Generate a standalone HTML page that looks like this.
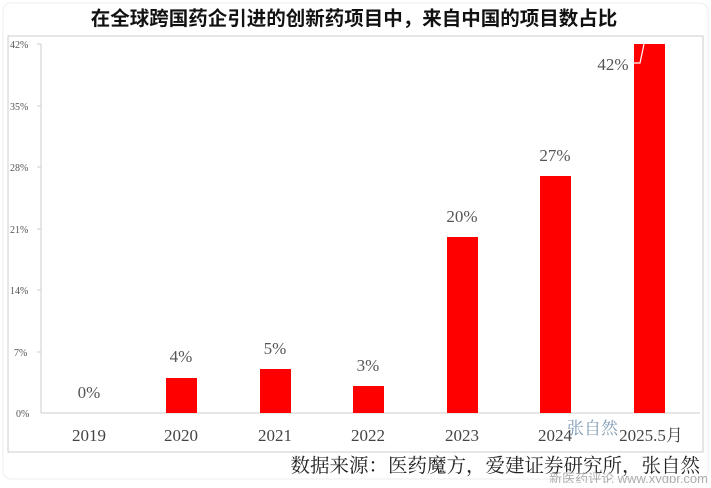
<!DOCTYPE html>
<html><head><meta charset="utf-8"><style>
body{margin:0;width:711px;height:483px;background:#fff;overflow:hidden;font-family:"Liberation Serif","Noto Serif CJK SC",serif}
</style></head><body>
<svg width="711" height="483" xmlns="http://www.w3.org/2000/svg">
<rect x="3" y="3" width="705" height="476" rx="8" fill="#fff" stroke="#eee"/>
<text x="354" y="25" text-anchor="middle" font-family="Liberation Sans,'Noto Sans CJK SC',sans-serif" font-weight="bold" font-size="19.5" fill="#111">在全球跨国药企引进的创新药项目中，来自中国的项目数占比</text>
<rect x="8" y="36" width="695" height="416" fill="#fff" stroke="#ccc"/>
<g font-family="Liberation Serif,serif" font-size="10" fill="#555" text-anchor="start">
<text x="10" y="48">42%</text><text x="10" y="110">35%</text><text x="10" y="171">28%</text><text x="10" y="233">21%</text><text x="10" y="294">14%</text><text x="14" y="356">7%</text><text x="16" y="417">0%</text>
</g>
<line x1="41" y1="44" x2="41" y2="413" stroke="#ccc"/>
<g stroke="#ccc"><line x1="37" y1="44" x2="41" y2="44"/><line x1="37" y1="106" x2="41" y2="106"/><line x1="37" y1="167" x2="41" y2="167"/><line x1="37" y1="229" x2="41" y2="229"/><line x1="37" y1="290" x2="41" y2="290"/><line x1="37" y1="352" x2="41" y2="352"/></g>
<line x1="41" y1="413" x2="700" y2="413" stroke="#ccc"/>
<g fill="#ff0000">
<rect x="166" y="378" width="31" height="35"/>
<rect x="260" y="369" width="31" height="44"/>
<rect x="353" y="386" width="31" height="27"/>
<rect x="447" y="237" width="31" height="176"/>
<rect x="540" y="176" width="31" height="237"/>
<rect x="634" y="44" width="31" height="369"/>
</g>
<polyline points="630,63 640,63 644,44" fill="none" stroke="#fff" stroke-width="1.2"/>
<g font-size="17" fill="#555" text-anchor="middle">
<text x="89" y="398">0%</text><text x="181" y="362">4%</text><text x="275" y="354">5%</text><text x="368" y="371">3%</text><text x="462" y="222">20%</text><text x="555" y="161">27%</text><text x="613" y="70">42%</text>
</g>
<g font-size="17" fill="#444" text-anchor="middle">
<text x="89" y="441">2019</text><text x="181" y="441">2020</text><text x="275" y="441">2021</text><text x="368" y="441">2022</text><text x="462" y="441">2023</text><text x="555" y="441">2024</text><text x="651" y="441">2025.5月</text>
</g>
<text x="567" y="434" font-size="17" fill="#6a8aa8" opacity="0.85">张自然</text>
<text x="700" y="472" text-anchor="end" font-size="19.5" fill="#222">数据来源：医药魔方，爱建证券研究所，张自然</text>
<text x="708" y="483" text-anchor="end" font-family="Liberation Sans,'Noto Sans CJK SC',sans-serif" font-size="13" fill="#999" opacity="0.8">新医药评论 www.xygpr.com</text>
</svg>
</body></html>
